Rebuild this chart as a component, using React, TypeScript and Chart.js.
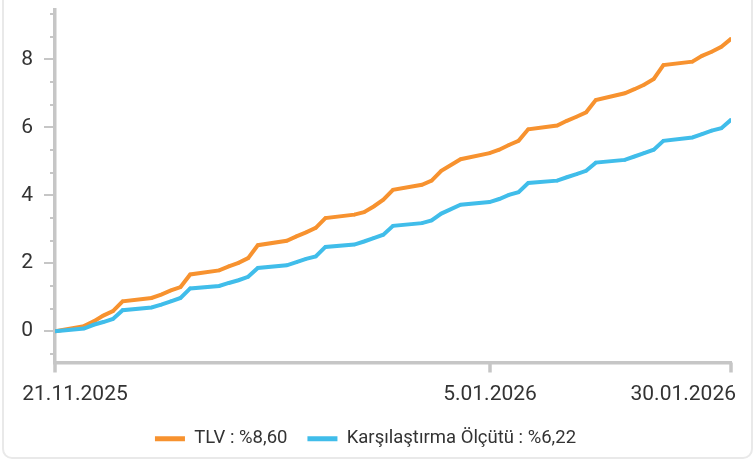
import React, { useEffect, useRef } from 'react';
import { Chart, registerables } from 'chart.js';

Chart.register(...registerables);

const dates = [
  '21.11.2025', '24.11.2025', '25.11.2025', '26.11.2025', '27.11.2025', '28.11.2025',
  '1.12.2025', '2.12.2025', '3.12.2025', '4.12.2025', '5.12.2025',
  '8.12.2025', '9.12.2025', '10.12.2025', '11.12.2025', '12.12.2025',
  '15.12.2025', '16.12.2025', '17.12.2025', '18.12.2025', '19.12.2025',
  '22.12.2025', '23.12.2025', '24.12.2025', '25.12.2025', '26.12.2025',
  '29.12.2025', '30.12.2025', '31.12.2025',
  '2.01.2026',
  '5.01.2026', '6.01.2026', '7.01.2026', '8.01.2026', '9.01.2026',
  '12.01.2026', '13.01.2026', '14.01.2026', '15.01.2026', '16.01.2026',
  '19.01.2026', '20.01.2026', '21.01.2026', '22.01.2026', '23.01.2026',
  '26.01.2026', '27.01.2026', '28.01.2026', '29.01.2026', '30.01.2026',
];

const tlvValues = [
  0, 0.15, 0.29, 0.46, 0.59, 0.88,
  0.98, 1.08, 1.2, 1.3, 1.67,
  1.79, 1.91, 2.01, 2.15, 2.53,
  2.66, 2.79, 2.91, 3.04, 3.33,
  3.43, 3.5, 3.67, 3.87, 4.16,
  4.31, 4.43, 4.72,
  5.06,
  5.24, 5.34, 5.48, 5.6, 5.94,
  6.05, 6.19, 6.31, 6.44, 6.8,
  7.0, 7.12, 7.25, 7.42, 7.83,
  7.93, 8.1, 8.22, 8.37, 8.6,
];

const benchmarkValues = [
  0, 0.08, 0.19, 0.27, 0.36, 0.62,
  0.7, 0.78, 0.88, 0.98, 1.26,
  1.33, 1.42, 1.5, 1.6, 1.86,
  1.94, 2.03, 2.13, 2.2, 2.48,
  2.55, 2.64, 2.74, 2.84, 3.1,
  3.18, 3.26, 3.46,
  3.72,
  3.8, 3.89, 4.01, 4.09, 4.36,
  4.43, 4.53, 4.62, 4.72, 4.96,
  5.04, 5.14, 5.24, 5.34, 5.6,
  5.7, 5.8, 5.9, 5.97, 6.22,
];

const seriesNames = ['TLV : %8,60', 'Karşılaştırma Ölçütü : %6,22'];
const seriesColors = ['#f7922f', '#40bdea'];
const xTickLabels = ['21.11.2025', '5.01.2026', '30.01.2026'];
const yLabelStep = 2;
const yMinorStep = 2 / 3;
const yMin = -0.92;
const yMax = 9.45;

function dayNumber(s: string): number {
  const [d, m, y] = s.split('.').map(Number);
  return Date.UTC(y, m - 1, d) / 86400000;
}
const day0 = dayNumber(dates[0]);
const dayOf = (s: string) => dayNumber(s) - day0;

function yTickValues(): number[] {
  const t: number[] = [];
  for (let k = Math.ceil(yMin / yMinorStep); k * yMinorStep <= yMax + 1e-9; k++) {
    t.push(k * yMinorStep);
  }
  return t;
}

const axisColor = '#c6c6c6';
const textColor = '#333333';

const axisDecorPlugin = {
  id: 'axisDecor',
  afterDraw(chart: any) {
    const ctx = chart.ctx;
    const area = chart.chartArea;
    const xs = chart.scales.x;
    const ys = chart.scales.y;
    ctx.save();
    ctx.lineWidth = 2;
    ctx.strokeStyle = axisColor;
    const vals = yTickValues();
    for (let i = 0; i < vals.length; i++) {
      const v = vals[i];
      const py = Math.round(ys.getPixelForValue(v));
      const r = v / yLabelStep;
      const major = Math.abs(r - Math.round(r)) < 1e-6;
      ctx.beginPath();
      ctx.moveTo(area.left - (major ? 11 : 5), py);
      ctx.lineTo(area.left, py);
      ctx.stroke();
    }
    ctx.lineWidth = 3.5;
    ctx.font = '21px Roboto';
    ctx.fillStyle = textColor;
    ctx.textBaseline = 'middle';
    xTickLabels.forEach((lab, i) => {
      const px = Math.round(xs.getPixelForValue(dayOf(lab)));
      ctx.beginPath();
      ctx.moveTo(px, area.bottom);
      ctx.lineTo(px, area.bottom + 10);
      ctx.stroke();
      let tx = px;
      if (i === 0) {
        ctx.textAlign = 'center';
        tx = px + 20;
      } else if (i === xTickLabels.length - 1) {
        ctx.textAlign = 'right';
        tx = px + 5;
      } else {
        ctx.textAlign = 'center';
      }
      ctx.fillText(lab, tx, area.bottom + 32);
    });
    ctx.restore();
  },
};

export default function App() {
  const canvasRef = useRef<HTMLCanvasElement | null>(null);

  useEffect(() => {
    if (!canvasRef.current) return;
    Chart.defaults.font.family = 'Roboto';
    const seriesValues = [tlvValues, benchmarkValues];
    const chart = new Chart(canvasRef.current, {
      type: 'line',
      data: {
        datasets: seriesValues.map((vals, si) => ({
          label: seriesNames[si],
          data: dates.map((d, i) => ({ x: dayOf(d), y: vals[i] })),
          borderColor: seriesColors[si],
          backgroundColor: seriesColors[si],
          borderWidth: 4,
          pointRadius: 1.8,
          pointBackgroundColor: seriesColors[si],
          pointBorderWidth: 0,
          tension: 0,
          fill: false,
          order: si === 0 ? 1 : 0,
        })),
      },
      options: {
        responsive: false,
        animation: false,
        devicePixelRatio: 1,
        layout: { padding: { top: 10, right: 24, bottom: 2, left: 0 } },
        plugins: {
          tooltip: { enabled: false },
          legend: {
            position: 'bottom',
            labels: {
              font: { size: 18.5, family: 'Roboto' },
              color: textColor,
              boxWidth: 30,
              boxHeight: 5,
              padding: 20,
              generateLabels: (ch: any) =>
                ch.data.datasets.map((ds: any, i: number) => ({
                  text: ds.label,
                  fillStyle: ds.borderColor,
                  strokeStyle: ds.borderColor,
                  lineWidth: 0,
                  hidden: false,
                  datasetIndex: i,
                  fontColor: textColor,
                })),
            },
          },
        },
        scales: {
          x: {
            type: 'linear',
            min: 0,
            max: dayOf(dates[dates.length - 1]),
            ticks: { display: false },
            grid: { display: true, drawOnChartArea: false, drawTicks: false, color: 'transparent' },
            border: { display: true, color: axisColor, width: 3.5 },
            afterFit: (s: any) => {
              s.height = 47;
            },
          },
          y: {
            type: 'linear',
            min: yMin,
            max: yMax,
            afterBuildTicks: (s: any) => {
              s.ticks = yTickValues().map((value) => ({ value }));
            },
            ticks: {
              autoSkip: false,
              padding: 22,
              color: textColor,
              font: { size: 21, family: 'Roboto' },
              callback: (v: any) => {
                const r = Number(v) / yLabelStep;
                return Math.abs(r - Math.round(r)) < 1e-6 ? String(Math.round(Number(v))) : '';
              },
            },
            grid: { display: true, drawOnChartArea: false, drawTicks: false, color: 'transparent' },
            border: { display: true, color: axisColor, width: 3.5 },
            afterFit: (s: any) => {
              s.width = 55;
              s.paddingTop = 0;
              s.paddingBottom = 0;
            },
          },
        },
      },
      plugins: [axisDecorPlugin],
    } as any);
    return () => chart.destroy();
  }, []);

  return (
    <>
      <div
        style={{
          position: 'absolute',
          left: 2,
          top: -12,
          width: 751,
          height: 471,
          boxSizing: 'border-box',
          border: '2px solid #e9e9e9',
          borderRadius: 10,
        }}
      />
      <canvas
        ref={canvasRef}
        width={755}
        height={460}
        style={{ position: 'absolute', left: 0, top: 0, width: 755, height: 460 }}
      />
    </>
  );
}
